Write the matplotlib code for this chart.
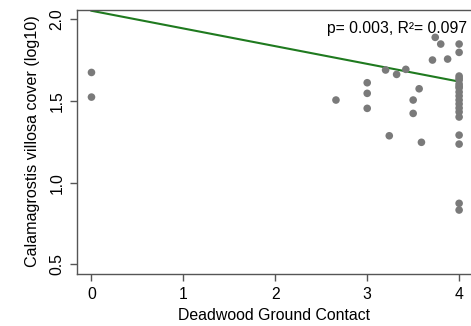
import numpy as np
import matplotlib
matplotlib.use('Agg')
import matplotlib.pyplot as plt

plt.rcParams['font.family'] = ['Liberation Sans', 'DejaVu Sans']

# deadwood ground contact (x) and Calamagrostis villosa cover, log10 (y)
contact = [0, 0,
           2.66,
           3.0, 3.0, 3.0,
           3.2, 3.24, 3.32, 3.42, 3.5, 3.5, 3.565, 3.59,
           3.71, 3.74, 3.8, 3.875,
           4, 4, 4, 4, 4, 4, 4, 4, 4, 4, 4, 4, 4, 4, 4, 4, 4, 4, 4]
cover = [1.675, 1.524,
         1.506,
         1.612, 1.547, 1.455,
         1.69, 1.287, 1.663, 1.694, 1.506, 1.424, 1.575, 1.247,
         1.751, 1.89, 1.849, 1.757,
         1.849, 1.798, 1.653, 1.628, 1.604, 1.580, 1.555, 1.531, 1.506,
         1.482, 1.457, 1.433, 1.402, 1.291, 1.236, 0.873, 0.832, 1.64, 1.59]

# fitted regression line
intercept = 2.053
slope = -0.1085
fit_label = 'p= 0.003, R²= 0.097'

fig = plt.figure(figsize=(4.71, 3.26), dpi=100)
ax = fig.add_axes([0.163, 0.1595, 0.843, 0.8095])

ax.scatter(contact, cover, s=30, color='#7a7a7a', edgecolors='none', zorder=3)
xs = np.array([min(contact), max(contact)])
ax.plot(xs, intercept + slope * xs, color='#1f7a1f', lw=1.5, zorder=2)

ax.set_xlim(-0.16, 4.16)
ax.set_ylim(0.44, 2.057)
ax.set_xticks([0, 1, 2, 3, 4])
ax.set_yticks([0.5, 1.0, 1.5, 2.0])
ax.set_yticklabels(['0.5', '1.0', '1.5', '2.0'], rotation=90, va='center')

for s in ax.spines.values():
    s.set_color('#555555')
    s.set_linewidth(1.0)
ax.tick_params(direction='out', length=5, width=1.0, color='#555555',
               labelsize=11.3, pad=4)

ax.set_xlabel('Deadwood Ground Contact', fontsize=11.4)
ax.set_ylabel('Calamagrostis villosa cover (log10)', fontsize=11.6)
ax.xaxis.set_label_coords(0.497, -0.129)
ax.yaxis.set_label_coords(-0.0925, 0.505)

fig.text(0.9915, 0.899, fit_label, ha='right', va='baseline', fontsize=11.3)

fig.savefig('out.png', dpi=100)
